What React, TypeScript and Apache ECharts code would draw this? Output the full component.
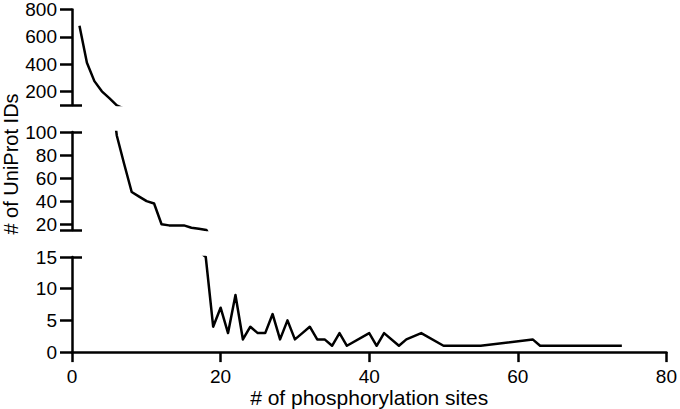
import React, { useEffect, useRef } from "react";
import * as echarts from "echarts";

// ---- data ----
const sites = [1, 2, 3, 4, 5, 6, 7, 8, 9, 10, 11, 12, 13, 14, 15, 16, 17, 18, 19, 20, 21, 22, 23, 24, 25, 26, 27, 28, 29, 30, 31, 32, 33, 34, 35, 36, 37, 40, 41, 42, 44, 45, 47, 50, 55, 62, 63, 74];
const counts = [680, 410, 275, 200, 150, 97, 72, 48, 44, 40, 38, 20, 19, 19, 19, 17, 16, 15, 4, 7, 3, 9, 2, 4, 3, 3, 6, 2, 5, 2, 3, 4, 2, 2, 1, 3, 1, 3, 1, 3, 1, 2, 3, 1, 1, 2, 1, 1];

// broken y axis: segments (top, middle, bottom)
const segMin = [100, 15, 0];
const segMax = [800, 100, 15];
const segTickValues = [
  [100, 200, 400, 600, 800],
  [15, 20, 40, 60, 80, 100],
  [0, 5, 10, 15],
];
const segLabelValues = [
  [200, 400, 600, 800],
  [20, 40, 60, 80, 100],
  [0, 5, 10, 15],
];
const segCapValues = [[100], [15, 100], [15]];

const xMin = 0;
const xMax = 80;
const xInterval = 20;

const xTitle = "# of phosphorylation sites";
const yTitle = "# of UniProt IDs";

// ---- layout / style ----
const FONT = "'Liberation Sans', Arial, sans-serif";
const gridTops = [6, 132, 257];
const gridHeights = [99, 98, 97];
const GRID_LEFT = 72;
const GRID_WIDTH = 597;
const LW = 2.5;

export default function App() {
  const ref = useRef<HTMLDivElement>(null);

  useEffect(() => {
    if (!ref.current) return;
    const chart = echarts.init(ref.current, null, { renderer: "svg" });
    const data = sites.map((s, i) => [s, counts[i]]);

    const grids: any[] = [];
    const xAxes: any[] = [];
    const yAxes: any[] = [];
    const series: any[] = [];

    for (let g = 0; g < 3; g++) {
      grids.push({
        left: GRID_LEFT,
        width: GRID_WIDTH,
        top: gridTops[g],
        height: gridHeights[g],
        containLabel: false,
      });
      const isBottom = g === 2;
      xAxes.push({
        type: "value",
        gridIndex: g,
        min: xMin,
        max: xMax,
        interval: xInterval,
        show: isBottom,
        axisLine: { show: isBottom, onZero: false, lineStyle: { color: "#000", width: LW } },
        axisTick: { show: isBottom, inside: false, length: 10, lineStyle: { color: "#000", width: LW } },
        axisLabel: { show: isBottom, color: "#000", fontSize: 19, fontFamily: FONT, margin: 15 },
        splitLine: { show: false },
        name: isBottom ? xTitle : "",
        nameLocation: "middle",
        nameGap: 33,
        nameTextStyle: { color: "#000", fontSize: 21, fontFamily: FONT },
      });
      // main y axis with outward ticks & labels
      yAxes.push({
        type: "value",
        gridIndex: g,
        min: segMin[g],
        max: segMax[g],
        position: "left",
        axisLine: { show: true, onZero: false, lineStyle: { color: "#000", width: LW } },
        axisTick: {
          show: true,
          inside: false,
          length: 12,
          customValues: segTickValues[g],
          lineStyle: { color: "#000", width: LW },
        },
        axisLabel: {
          show: true,
          customValues: segLabelValues[g],
          color: "#000",
          fontSize: 19,
          fontFamily: FONT,
          margin: 15,
        },
        splitLine: { show: false },
      });
      // inner caps at the break ends
      yAxes.push({
        type: "value",
        gridIndex: g,
        min: segMin[g],
        max: segMax[g],
        position: "left",
        axisLine: { show: false },
        axisTick: {
          show: true,
          inside: true,
          length: 10,
          customValues: segCapValues[g],
          lineStyle: { color: "#000", width: LW },
        },
        axisLabel: { show: false },
        splitLine: { show: false },
      });
      series.push({
        type: "line",
        xAxisIndex: g,
        yAxisIndex: g * 2,
        data,
        showSymbol: false,
        symbol: "none",
        clip: true,
        lineStyle: { color: "#000", width: LW, join: "round" },
        z: 3,
      });
    }

    chart.setOption({
      animation: false,
      backgroundColor: "#fff",
      textStyle: { fontFamily: FONT },
      grid: grids,
      xAxis: xAxes,
      yAxis: yAxes,
      series,
      graphic: [
        {
          type: "text",
          x: 11,
          y: 164,
          rotation: Math.PI / 2,
          style: {
            text: yTitle,
            fill: "#000",
            fontSize: 20,
            fontFamily: FONT,
            align: "center",
            verticalAlign: "middle",
          },
        },
      ],
    });
    return () => chart.dispose();
  }, []);

  return (
    <div
      ref={ref}
      style={{ position: "absolute", left: 0, top: 0, width: 680, height: 409 }}
    />
  );
}
